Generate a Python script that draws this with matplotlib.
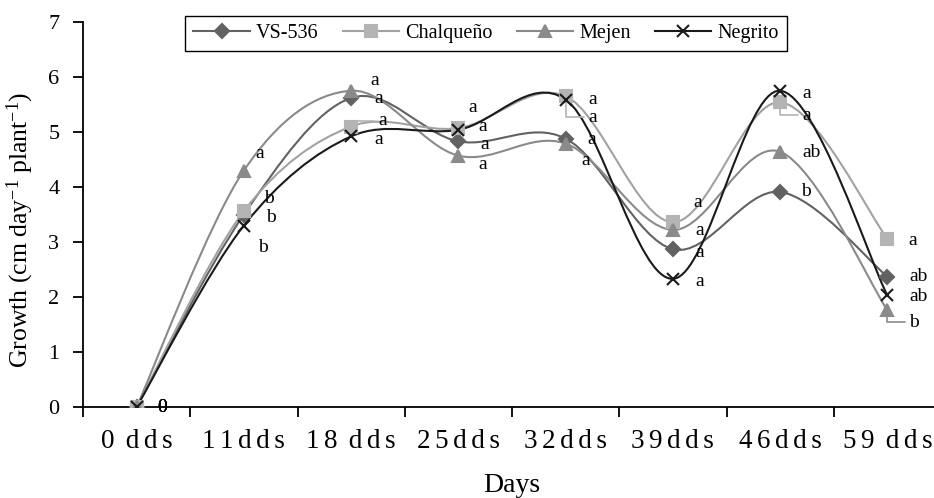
import matplotlib
matplotlib.use('Agg')
import matplotlib.pyplot as plt
from matplotlib.path import Path
from matplotlib.patches import PathPatch
from matplotlib.lines import Line2D
import numpy as np

plt.rcParams['font.family'] = ['Liberation Serif', 'DejaVu Serif']
plt.rcParams['mathtext.fontset'] = 'custom'
plt.rcParams['mathtext.rm'] = 'Liberation Serif'
plt.rcParams['mathtext.it'] = 'Liberation Serif:italic'

# data
days = ['0 dds', '11dds', '18 dds', '25dds', '32dds', '39dds', '46dds', '59 dds']
vs536 = [0, 3.50, 5.62, 4.83, 4.88, 2.87, 3.91, 2.37]
chalqueno = [0, 3.56, 5.10, 5.07, 5.65, 3.36, 5.54, 3.06]
mejen = [0, 4.30, 5.75, 4.57, 4.79, 3.22, 4.64, 1.76]
negrito = [0, 3.30, 4.92, 5.04, 5.59, 2.33, 5.75, 2.03]

vs536_letters = ['0', 'b', 'a', 'a', 'a', 'a', 'b', 'ab']
chalqueno_letters = ['0', 'b', 'a', 'a', 'a', 'a', 'a', 'a']
mejen_letters = ['0', 'a', 'a', 'a', 'a', 'a', 'ab', 'b']
negrito_letters = ['0', 'b', 'a', 'a', 'a', 'a', 'a', 'ab']

# label offsets in pixels (dx, dy up) and which labels get a leader line
vs536_off = [(21, 0), (20, 16), (23, -1), (22, -3), (22, -1), (23, -3), (21, 0), (22, 0)]
chalqueno_off = [(21, 0), (22, -6), (27, 6), (20, 2), (23, -21), (21, 20), (22, -13), (21, -2)]
mejen_off = [(21, 0), (11, 17), (19, 10), (20, -9), (16, -17), (22, -1), (22, -1), (22, -12)]
negrito_off = [(21, 0), (14, -22), (23, -3), (10, 22), (23, 0), (22, -3), (22, -3), (22, -1)]
vs536_lead = [0] * 8
chalqueno_lead = [0, 0, 1, 0, 1, 0, 1, 0]
mejen_lead = [0, 0, 0, 0, 0, 0, 0, 1]
negrito_lead = [0] * 8


def smooth_path(xs, ys):
    # excel-like smoothed line as cubic bezier segments
    pts = np.column_stack([xs, ys]).astype(float)
    n = len(pts)
    verts = [pts[0]]
    codes = [Path.MOVETO]
    for i in range(n - 1):
        p0 = pts[max(i - 1, 0)]
        p1 = pts[i]
        p2 = pts[i + 1]
        p3 = pts[min(i + 2, n - 1)]
        verts += [p1 + (p2 - p0) / 6, p2 - (p3 - p1) / 6, p2]
        codes += [Path.CURVE4] * 3
    return Path(verts, codes)


def spaced(label):
    # widen letter spacing like the original axis labels
    out = ''
    for i, ch in enumerate(label):
        out += ch
        if i < len(label) - 1 and ch != ' ':
            out += '\u2006'
    return out


series = [
    ('VS-536', vs536, vs536_letters, vs536_off, vs536_lead, '#626262', '#626262', 'D', 7),
    ('Chalqueño', chalqueno, chalqueno_letters, chalqueno_off, chalqueno_lead, '#a2a2a2', '#b4b4b4', 's', 9),
    ('Mejen', mejen, mejen_letters, mejen_off, mejen_lead, '#8a8a8a', '#8a8a8a', '^', 9),
    ('Negrito', negrito, negrito_letters, negrito_off, negrito_lead, '#1a1a1a', '#1a1a1a', 'x', 9),
]

fig = plt.figure(figsize=(9.34, 4.98), dpi=100)
ax = fig.add_axes([83 / 934, 91 / 498, 858 / 934, 385 / 498])

x = np.arange(len(days))
handles = []
for name, vals, letters, offs, lead, lc, mc, mk, ms in series:
    ax.add_patch(PathPatch(smooth_path(x, vals), facecolor='none', edgecolor=lc, lw=1.5, zorder=2))
    ax.plot(x, vals, linestyle='none', marker=mk, ms=ms, color=mc, mew=1.5, zorder=3)
    for xi, v, t, (dx, dy), ld in zip(x, vals, letters, offs, lead):
        arrow = None
        if ld:
            arrow = dict(arrowstyle='-', color=mc, lw=1.2, shrinkA=1, shrinkB=4,
                         connectionstyle='angle,angleA=0,angleB=90,rad=0')
        ax.annotate(t, (xi, v), xytext=(dx, dy), textcoords='offset pixels',
                    ha='left', va='center', fontsize=14, color='black',
                    arrowprops=arrow)
    handles.append(Line2D([], [], color=lc, lw=1.5, marker=mk, ms=ms, mfc=mc, mec=mc, mew=1.5))

ax.set_xlim(-0.5, len(days) - 0.5)
ax.set_ylim(0, 7)
ax.set_yticks(range(8))
ax.set_xticks(x)
ax.set_xticklabels([spaced(d) for d in days])
ax.set_xticks(np.arange(-0.5, len(days)), minor=True)
ax.tick_params(axis='x', which='major', length=0, pad=16, labelsize=19.5)
ax.tick_params(axis='x', which='minor', length=7, width=1.3, direction='out')
ax.tick_params(axis='y', length=7, width=1.3, direction='out', pad=10, labelsize=16)

for s in ['top', 'right']:
    ax.spines[s].set_visible(False)
for s in ['left', 'bottom']:
    ax.spines[s].set_linewidth(1.3)
    ax.spines[s].set_color('black')

ax.set_xlabel('Days', fontsize=20)
ax.xaxis.set_label_coords(0.5, -0.171)
ax.set_ylabel('Growth (cm day$^{-1}$ plant$^{-1}$)', fontsize=18.5)
ax.yaxis.set_label_coords(-0.055, 0.46)

leg = ax.legend(handles, [s[0] for s in series], ncol=4, loc='upper center',
                bbox_to_anchor=(486 / 934, 1 - 16 / 498), bbox_transform=fig.transFigure,
                fontsize=14.5, handlelength=2.8, handletextpad=0.3, columnspacing=1.2,
                borderpad=0.4, borderaxespad=0, fancybox=False, framealpha=1,
                edgecolor='black')
leg.get_frame().set_linewidth(1.0)

fig.savefig('out.png', dpi=100)
